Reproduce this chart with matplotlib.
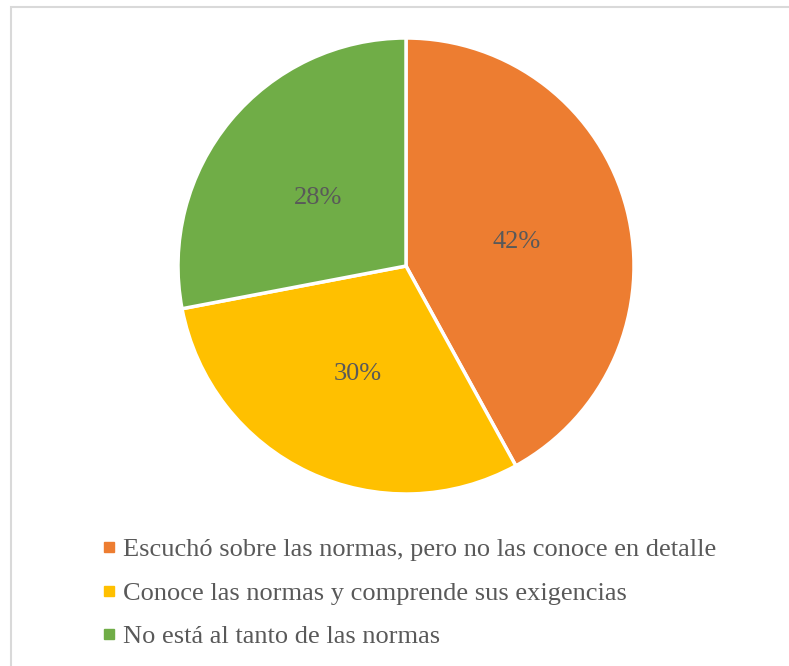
import matplotlib
matplotlib.use("Agg")
import matplotlib.pyplot as plt
from matplotlib.patches import Rectangle
from matplotlib.lines import Line2D

categories = [
    "Escuchó sobre las normas, pero no las conoce en detalle",
    "Conoce las normas y comprende sus exigencias",
    "No está al tanto de las normas",
]
values = [42, 30, 28]
colors = ["#ED7D31", "#FFC000", "#70AD47"]
text_color = "#595959"

plt.rcParams["font.family"] = ["Liberation Serif", "DejaVu Serif"]

W, H = 789, 666
fig = plt.figure(figsize=(W / 100, H / 100), dpi=100)

# border (chart area frame, cropped at right/bottom)
fig.patches.append(Rectangle((11 / W, -0.5), 2, 1.5 - 7 / H, transform=fig.transFigure,
                             fill=False, edgecolor="#D9D9D9", linewidth=1.5))

cx, cy, r = 406, 266, 228
ax = fig.add_axes([(cx - r) / W, 1 - (cy + r) / H, 2 * r / W, 2 * r / H])
wedges, texts, autotexts = ax.pie(
    values, colors=colors, startangle=90, counterclock=False,
    autopct=lambda p: f"{p:.0f}%", pctdistance=0.5,
    wedgeprops=dict(edgecolor="white", linewidth=2.5),
    textprops=dict(color=text_color, fontsize=19),
)
for t in autotexts:
    x, y = t.get_position()
    t.set_position((x, y - 0.02))
ax.set_xlim(-1, 1)
ax.set_ylim(-1, 1)
ax.set_aspect("equal")
ax.axis("off")

handles = [Line2D([0], [0], marker="s", linestyle="none", markersize=6.5,
                  markerfacecolor=c, markeredgecolor=c) for c in colors]
fig.legend(handles, categories, loc="upper left",
           bbox_to_anchor=(102 / W, 1 - 538 / H), frameon=False,
           fontsize=19, labelcolor=text_color, handlelength=0.5,
           handletextpad=0.3, labelspacing=0.75, borderpad=0, borderaxespad=0)

fig.savefig("out.png", dpi=100)
